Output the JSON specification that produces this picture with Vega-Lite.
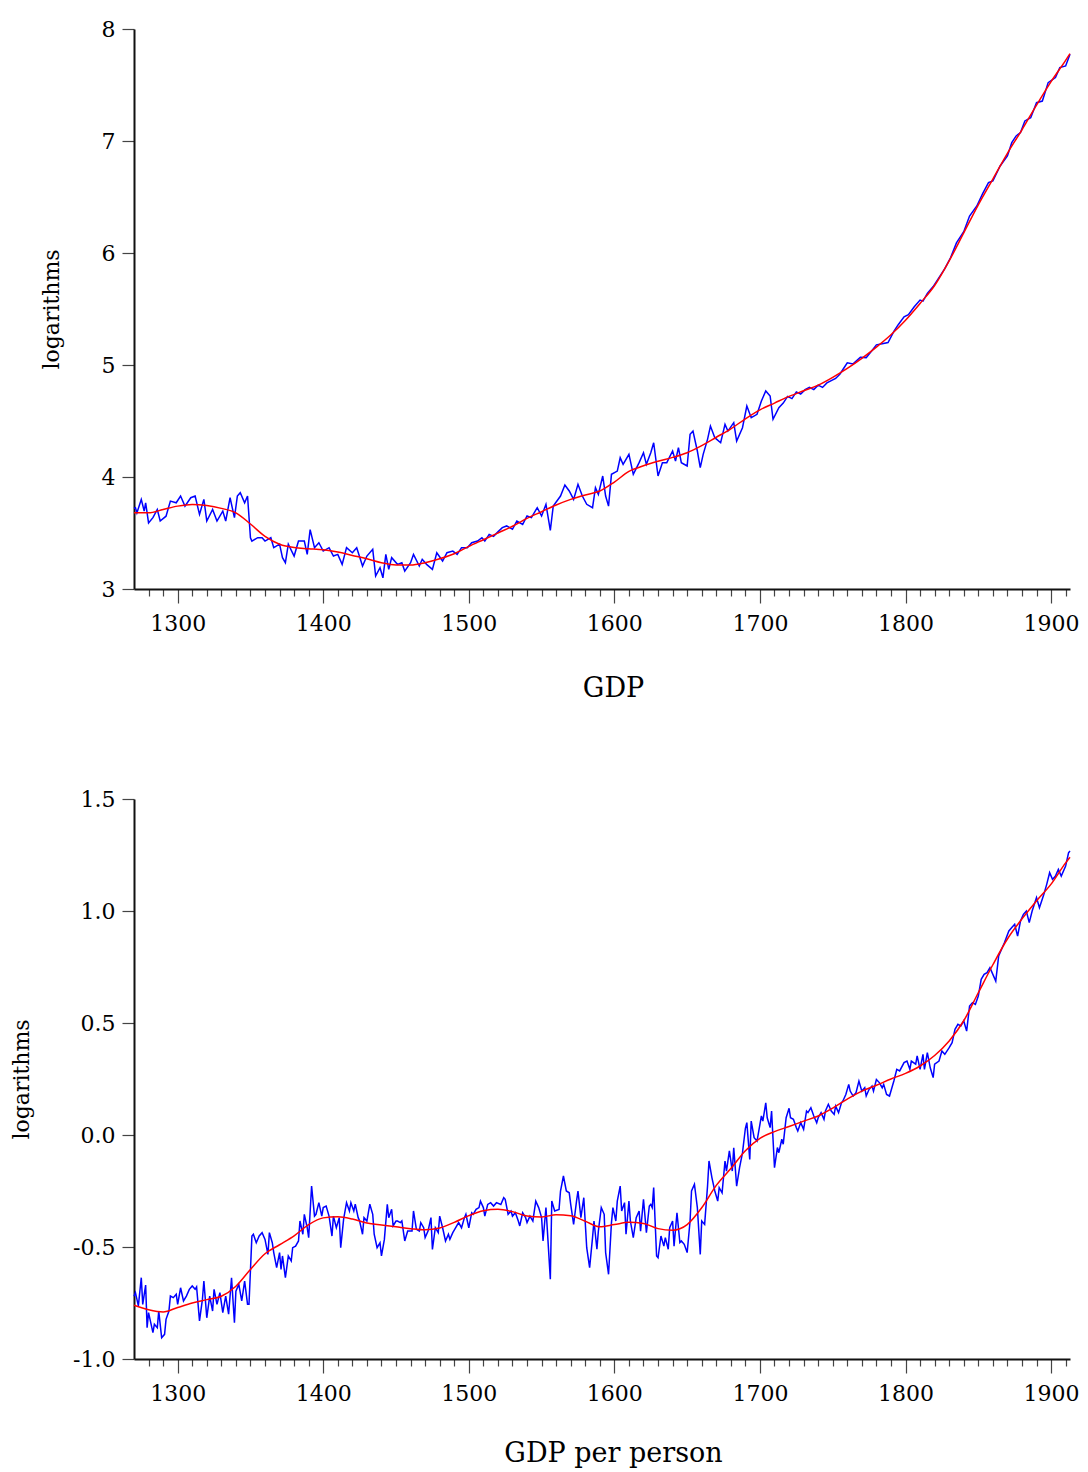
{
"$schema": "https://vega.github.io/schema/vega-lite/v6.json",
"background": "white",
"padding": {"left": 10, "top": 18, "right": 10, "bottom": 5},
"config": {
  "font": "DejaVu Serif",
  "view": {"stroke": null},
  "axis": {"labelFont": "DejaVu Serif", "titleFont": "DejaVu Serif", "labelFontSize": 22, "labelColor": "#000", "titleColor": "#000", "titleFontWeight": "normal", "domainColor": "#111", "domainWidth": 2, "tickColor": "#444", "tickWidth": 1.2, "grid": false, "labelOverlap": false, "labelFlush": false}
},
"spacing": 87,
"datasets": {
"gdp": [
{"year":1270,"v":3.72},{"year":1271,"v":3.726},{"year":1272,"v":3.68},{"year":1275,"v":3.80},{"year":1277,"v":3.696},{"year":1278,"v":3.77},{"year":1280,"v":3.59},{"year":1283,"v":3.637},{"year":1286,"v":3.71},{"year":1288,"v":3.607},{"year":1292,"v":3.65},{"year":1295,"v":3.785},{"year":1299,"v":3.77},{"year":1302,"v":3.83},{"year":1305,"v":3.74},{"year":1309,"v":3.815},{"year":1312,"v":3.83},{"year":1315,"v":3.666},{"year":1318,"v":3.80},{"year":1320,"v":3.607},{"year":1324,"v":3.71},{"year":1327,"v":3.607},{"year":1331,"v":3.696},{"year":1333,"v":3.607},{"year":1336,"v":3.815},{"year":1339,"v":3.637},{"year":1341,"v":3.83},{"year":1343,"v":3.86},{"year":1346,"v":3.77},{"year":1348,"v":3.83},{"year":1350,"v":3.458},{"year":1351,"v":3.428},{"year":1355,"v":3.458},{"year":1358,"v":3.458},{"year":1360,"v":3.428},{"year":1364,"v":3.458},{"year":1366,"v":3.369},{"year":1370,"v":3.40},{"year":1372,"v":3.28},{"year":1374,"v":3.235},{"year":1376,"v":3.40},{"year":1380,"v":3.294},{"year":1383,"v":3.428},{"year":1387,"v":3.428},{"year":1389,"v":3.309},{"year":1391,"v":3.53},{"year":1394,"v":3.369},{"year":1397,"v":3.413},{"year":1400,"v":3.339},{"year":1404,"v":3.369},{"year":1407,"v":3.294},{"year":1410,"v":3.309},{"year":1413,"v":3.22},{"year":1416,"v":3.369},{"year":1420,"v":3.324},{"year":1423,"v":3.369},{"year":1427,"v":3.205},{"year":1430,"v":3.294},{"year":1434,"v":3.354},{"year":1436,"v":3.116},{"year":1439,"v":3.19},{"year":1441,"v":3.10},{"year":1443,"v":3.309},{"year":1445,"v":3.175},{"year":1447,"v":3.28},{"year":1451,"v":3.22},{"year":1454,"v":3.235},{"year":1456,"v":3.16},{"year":1460,"v":3.235},{"year":1462,"v":3.309},{"year":1466,"v":3.205},{"year":1468,"v":3.265},{"year":1471,"v":3.22},{"year":1475,"v":3.175},{"year":1478,"v":3.324},{"year":1482,"v":3.25},{"year":1485,"v":3.324},{"year":1489,"v":3.339},{"year":1492,"v":3.309},{"year":1495,"v":3.369},{"year":1499,"v":3.369},{"year":1502,"v":3.413},{"year":1506,"v":3.428},{"year":1509,"v":3.458},{"year":1511,"v":3.428},{"year":1514,"v":3.488},{"year":1517,"v":3.47},{"year":1520,"v":3.51},{"year":1523,"v":3.548},{"year":1526,"v":3.563},{"year":1530,"v":3.533},{"year":1533,"v":3.607},{"year":1537,"v":3.577},{"year":1540,"v":3.652},{"year":1543,"v":3.637},{"year":1547,"v":3.726},{"year":1550,"v":3.652},{"year":1553,"v":3.756},{"year":1556,"v":3.524},{"year":1558,"v":3.74},{"year":1563,"v":3.83},{"year":1566,"v":3.929},{"year":1569,"v":3.875},{"year":1572,"v":3.80},{"year":1575,"v":3.935},{"year":1578,"v":3.83},{"year":1581,"v":3.756},{"year":1585,"v":3.726},{"year":1587,"v":3.905},{"year":1589,"v":3.845},{"year":1592,"v":4.009},{"year":1594,"v":3.83},{"year":1596,"v":3.74},{"year":1598,"v":4.024},{"year":1602,"v":4.053},{"year":1604,"v":4.172},{"year":1606,"v":4.113},{"year":1610,"v":4.202},{"year":1613,"v":4.024},{"year":1617,"v":4.128},{"year":1620,"v":4.217},{"year":1622,"v":4.113},{"year":1625,"v":4.217},{"year":1627,"v":4.306},{"year":1630,"v":4.009},{"year":1633,"v":4.128},{"year":1636,"v":4.128},{"year":1640,"v":4.232},{"year":1642,"v":4.143},{"year":1644,"v":4.262},{"year":1646,"v":4.128},{"year":1650,"v":4.098},{"year":1652,"v":4.381},{"year":1654,"v":4.41},{"year":1657,"v":4.232},{"year":1659,"v":4.083},{"year":1661,"v":4.202},{"year":1664,"v":4.336},{"year":1666,"v":4.455},{"year":1669,"v":4.351},{"year":1673,"v":4.306},{"year":1676,"v":4.47},{"year":1678,"v":4.41},{"year":1682,"v":4.485},{"year":1684,"v":4.321},{"year":1688,"v":4.44},{"year":1691,"v":4.634},{"year":1694,"v":4.53},{"year":1698,"v":4.56},{"year":1701,"v":4.679},{"year":1704,"v":4.768},{"year":1707,"v":4.723},{"year":1709,"v":4.515},{"year":1713,"v":4.619},{"year":1716,"v":4.66},{"year":1719,"v":4.72},{"year":1722,"v":4.70},{"year":1725,"v":4.76},{"year":1728,"v":4.74},{"year":1731,"v":4.78},{"year":1734,"v":4.80},{"year":1737,"v":4.78},{"year":1740,"v":4.82},{"year":1743,"v":4.80},{"year":1746,"v":4.84},{"year":1749,"v":4.86},{"year":1752,"v":4.88},{"year":1755,"v":4.92},{"year":1757,"v":4.96},{"year":1760,"v":5.02},{"year":1764,"v":5.01},{"year":1769,"v":5.07},{"year":1773,"v":5.066},{"year":1777,"v":5.13},{"year":1780,"v":5.18},{"year":1784,"v":5.19},{"year":1788,"v":5.20},{"year":1792,"v":5.30},{"year":1795,"v":5.36},{"year":1799,"v":5.43},{"year":1802,"v":5.45},{"year":1806,"v":5.52},{"year":1810,"v":5.58},{"year":1812,"v":5.57},{"year":1815,"v":5.64},{"year":1819,"v":5.70},{"year":1824,"v":5.80},{"year":1827,"v":5.86},{"year":1831,"v":5.96},{"year":1835,"v":6.09},{"year":1840,"v":6.19},{"year":1844,"v":6.33},{"year":1849,"v":6.42},{"year":1853,"v":6.53},{"year":1857,"v":6.628},{"year":1860,"v":6.643},{"year":1865,"v":6.777},{"year":1870,"v":6.866},{"year":1873,"v":6.985},{"year":1876,"v":7.045},{"year":1879,"v":7.075},{"year":1882,"v":7.179},{"year":1886,"v":7.208},{"year":1890,"v":7.342},{"year":1894,"v":7.357},{"year":1898,"v":7.521},{"year":1903,"v":7.566},{"year":1906,"v":7.655},{"year":1910,"v":7.67},{"year":1913,"v":7.774}
],
"gdp_trend": [
{"year":1270,"v":3.68},{"year":1280,"v":3.68},{"year":1290,"v":3.71},{"year":1300,"v":3.74},{"year":1310,"v":3.755},{"year":1320,"v":3.745},{"year":1330,"v":3.72},{"year":1340,"v":3.68},{"year":1350,"v":3.58},{"year":1360,"v":3.47},{"year":1370,"v":3.40},{"year":1380,"v":3.37},{"year":1390,"v":3.36},{"year":1400,"v":3.35},{"year":1410,"v":3.33},{"year":1420,"v":3.30},{"year":1430,"v":3.27},{"year":1440,"v":3.235},{"year":1450,"v":3.215},{"year":1460,"v":3.214},{"year":1470,"v":3.235},{"year":1480,"v":3.27},{"year":1490,"v":3.315},{"year":1500,"v":3.38},{"year":1510,"v":3.44},{"year":1520,"v":3.50},{"year":1530,"v":3.56},{"year":1540,"v":3.63},{"year":1550,"v":3.69},{"year":1560,"v":3.75},{"year":1570,"v":3.80},{"year":1580,"v":3.84},{"year":1590,"v":3.875},{"year":1600,"v":3.955},{"year":1610,"v":4.05},{"year":1620,"v":4.10},{"year":1630,"v":4.14},{"year":1640,"v":4.175},{"year":1650,"v":4.217},{"year":1660,"v":4.28},{"year":1670,"v":4.355},{"year":1680,"v":4.43},{"year":1690,"v":4.52},{"year":1700,"v":4.60},{"year":1710,"v":4.66},{"year":1720,"v":4.72},{"year":1730,"v":4.77},{"year":1740,"v":4.82},{"year":1750,"v":4.89},{"year":1760,"v":4.97},{"year":1770,"v":5.06},{"year":1780,"v":5.16},{"year":1790,"v":5.27},{"year":1800,"v":5.40},{"year":1810,"v":5.55},{"year":1820,"v":5.71},{"year":1830,"v":5.93},{"year":1840,"v":6.18},{"year":1850,"v":6.43},{"year":1860,"v":6.66},{"year":1870,"v":6.89},{"year":1880,"v":7.10},{"year":1890,"v":7.32},{"year":1900,"v":7.53},{"year":1910,"v":7.72},{"year":1913,"v":7.78}
],
"pc": [
{"year":1270,"v":-0.72},{"year":1271,"v":-0.704},{"year":1273,"v":-0.763},{"year":1275,"v":-0.637},{"year":1276,"v":-0.756},{"year":1278,"v":-0.67},{"year":1279,"v":-0.86},{"year":1280,"v":-0.793},{"year":1283,"v":-0.882},{"year":1284,"v":-0.845},{"year":1286,"v":-0.86},{"year":1287,"v":-0.786},{"year":1289,"v":-0.905},{"year":1291,"v":-0.89},{"year":1292,"v":-0.823},{"year":1294,"v":-0.786},{"year":1295,"v":-0.719},{"year":1297,"v":-0.726},{"year":1299,"v":-0.711},{"year":1300,"v":-0.756},{"year":1302,"v":-0.682},{"year":1304,"v":-0.741},{"year":1306,"v":-0.719},{"year":1308,"v":-0.689},{"year":1310,"v":-0.674},{"year":1312,"v":-0.689},{"year":1313,"v":-0.678},{"year":1315,"v":-0.83},{"year":1317,"v":-0.734},{"year":1318,"v":-0.652},{"year":1320,"v":-0.816},{"year":1322,"v":-0.719},{"year":1324,"v":-0.786},{"year":1325,"v":-0.689},{"year":1327,"v":-0.756},{"year":1329,"v":-0.704},{"year":1331,"v":-0.793},{"year":1333,"v":-0.719},{"year":1335,"v":-0.80},{"year":1337,"v":-0.637},{"year":1339,"v":-0.838},{"year":1340,"v":-0.697},{"year":1342,"v":-0.667},{"year":1344,"v":-0.741},{"year":1346,"v":-0.652},{"year":1348,"v":-0.756},{"year":1349,"v":-0.756},{"year":1351,"v":-0.451},{"year":1352,"v":-0.443},{"year":1354,"v":-0.481},{"year":1356,"v":-0.451},{"year":1358,"v":-0.436},{"year":1360,"v":-0.466},{"year":1362,"v":-0.533},{"year":1363,"v":-0.436},{"year":1365,"v":-0.481},{"year":1366,"v":-0.525},{"year":1368,"v":-0.592},{"year":1370,"v":-0.525},{"year":1371,"v":-0.60},{"year":1372,"v":-0.54},{"year":1374,"v":-0.637},{"year":1376,"v":-0.54},{"year":1378,"v":-0.562},{"year":1379,"v":-0.503},{"year":1381,"v":-0.496},{"year":1383,"v":-0.473},{"year":1384,"v":-0.384},{"year":1386,"v":-0.443},{"year":1387,"v":-0.354},{"year":1389,"v":-0.414},{"year":1390,"v":-0.458},{"year":1392,"v":-0.228},{"year":1394,"v":-0.362},{"year":1395,"v":-0.354},{"year":1397,"v":-0.302},{"year":1399,"v":-0.362},{"year":1400,"v":-0.324},{"year":1402,"v":-0.317},{"year":1404,"v":-0.362},{"year":1406,"v":-0.451},{"year":1407,"v":-0.362},{"year":1409,"v":-0.414},{"year":1411,"v":-0.369},{"year":1412,"v":-0.503},{"year":1414,"v":-0.376},{"year":1416,"v":-0.302},{"year":1418,"v":-0.339},{"year":1419,"v":-0.302},{"year":1421,"v":-0.339},{"year":1422,"v":-0.309},{"year":1424,"v":-0.369},{"year":1425,"v":-0.384},{"year":1427,"v":-0.443},{"year":1428,"v":-0.369},{"year":1430,"v":-0.384},{"year":1432,"v":-0.309},{"year":1434,"v":-0.354},{"year":1435,"v":-0.443},{"year":1437,"v":-0.503},{"year":1439,"v":-0.481},{"year":1440,"v":-0.54},{"year":1442,"v":-0.466},{"year":1444,"v":-0.309},{"year":1445,"v":-0.369},{"year":1447,"v":-0.332},{"year":1448,"v":-0.406},{"year":1450,"v":-0.384},{"year":1451,"v":-0.384},{"year":1453,"v":-0.391},{"year":1454,"v":-0.384},{"year":1456,"v":-0.473},{"year":1458,"v":-0.429},{"year":1459,"v":-0.429},{"year":1461,"v":-0.429},{"year":1462,"v":-0.339},{"year":1464,"v":-0.421},{"year":1466,"v":-0.429},{"year":1467,"v":-0.391},{"year":1469,"v":-0.414},{"year":1470,"v":-0.458},{"year":1472,"v":-0.429},{"year":1474,"v":-0.369},{"year":1475,"v":-0.511},{"year":1477,"v":-0.414},{"year":1479,"v":-0.436},{"year":1480,"v":-0.362},{"year":1482,"v":-0.414},{"year":1484,"v":-0.473},{"year":1486,"v":-0.443},{"year":1487,"v":-0.466},{"year":1489,"v":-0.436},{"year":1491,"v":-0.414},{"year":1493,"v":-0.391},{"year":1495,"v":-0.414},{"year":1497,"v":-0.369},{"year":1498,"v":-0.354},{"year":1500,"v":-0.414},{"year":1502,"v":-0.347},{"year":1503,"v":-0.354},{"year":1505,"v":-0.332},{"year":1507,"v":-0.324},{"year":1508,"v":-0.295},{"year":1510,"v":-0.324},{"year":1511,"v":-0.362},{"year":1513,"v":-0.31},{"year":1515,"v":-0.302},{"year":1517,"v":-0.317},{"year":1519,"v":-0.302},{"year":1522,"v":-0.31},{"year":1524,"v":-0.28},{"year":1525,"v":-0.287},{"year":1527,"v":-0.354},{"year":1529,"v":-0.339},{"year":1530,"v":-0.362},{"year":1532,"v":-0.347},{"year":1534,"v":-0.384},{"year":1535,"v":-0.406},{"year":1537,"v":-0.347},{"year":1539,"v":-0.369},{"year":1540,"v":-0.391},{"year":1542,"v":-0.362},{"year":1544,"v":-0.384},{"year":1546,"v":-0.295},{"year":1548,"v":-0.324},{"year":1550,"v":-0.369},{"year":1551,"v":-0.473},{"year":1553,"v":-0.324},{"year":1554,"v":-0.429},{"year":1556,"v":-0.644},{"year":1557,"v":-0.295},{"year":1559,"v":-0.339},{"year":1562,"v":-0.332},{"year":1563,"v":-0.25},{"year":1565,"v":-0.183},{"year":1567,"v":-0.25},{"year":1569,"v":-0.258},{"year":1570,"v":-0.31},{"year":1572,"v":-0.399},{"year":1574,"v":-0.295},{"year":1575,"v":-0.25},{"year":1577,"v":-0.369},{"year":1579,"v":-0.28},{"year":1581,"v":-0.503},{"year":1583,"v":-0.592},{"year":1585,"v":-0.458},{"year":1586,"v":-0.384},{"year":1588,"v":-0.51},{"year":1589,"v":-0.429},{"year":1591,"v":-0.324},{"year":1593,"v":-0.354},{"year":1594,"v":-0.525},{"year":1596,"v":-0.622},{"year":1598,"v":-0.391},{"year":1599,"v":-0.324},{"year":1601,"v":-0.384},{"year":1602,"v":-0.295},{"year":1604,"v":-0.228},{"year":1605,"v":-0.339},{"year":1607,"v":-0.302},{"year":1608,"v":-0.443},{"year":1610,"v":-0.295},{"year":1611,"v":-0.384},{"year":1613,"v":-0.458},{"year":1615,"v":-0.369},{"year":1617,"v":-0.339},{"year":1618,"v":-0.429},{"year":1620,"v":-0.287},{"year":1622,"v":-0.436},{"year":1624,"v":-0.317},{"year":1625,"v":-0.31},{"year":1626,"v":-0.324},{"year":1627,"v":-0.235},{"year":1629,"v":-0.54},{"year":1630,"v":-0.548},{"year":1632,"v":-0.451},{"year":1634,"v":-0.496},{"year":1635,"v":-0.458},{"year":1637,"v":-0.51},{"year":1638,"v":-0.414},{"year":1640,"v":-0.384},{"year":1641,"v":-0.496},{"year":1643,"v":-0.347},{"year":1645,"v":-0.48},{"year":1646,"v":-0.473},{"year":1648,"v":-0.488},{"year":1650,"v":-0.525},{"year":1652,"v":-0.384},{"year":1653,"v":-0.25},{"year":1655,"v":-0.22},{"year":1657,"v":-0.324},{"year":1659,"v":-0.533},{"year":1660,"v":-0.384},{"year":1662,"v":-0.399},{"year":1664,"v":-0.228},{"year":1665,"v":-0.116},{"year":1667,"v":-0.19},{"year":1669,"v":-0.25},{"year":1671,"v":-0.295},{"year":1672,"v":-0.235},{"year":1674,"v":-0.258},{"year":1676,"v":-0.116},{"year":1677,"v":-0.161},{"year":1679,"v":-0.071},{"year":1681,"v":-0.161},{"year":1682,"v":-0.057},{"year":1684,"v":-0.228},{"year":1686,"v":-0.146},{"year":1688,"v":-0.08},{"year":1690,"v":0.03},{"year":1691,"v":0.055},{"year":1693,"v":-0.109},{"year":1694,"v":0.062},{"year":1696,"v":-0.012},{"year":1698,"v":-0.027},{"year":1701,"v":0.085},{"year":1702,"v":0.062},{"year":1704,"v":0.144},{"year":1705,"v":0.077},{"year":1707,"v":0.033},{"year":1708,"v":0.107},{"year":1710,"v":-0.146},{"year":1712,"v":-0.056},{"year":1713,"v":-0.079},{"year":1715,"v":-0.019},{"year":1716,"v":-0.041},{"year":1718,"v":0.077},{"year":1720,"v":0.119},{"year":1721,"v":0.077},{"year":1723,"v":0.07},{"year":1725,"v":0.033},{"year":1726,"v":0.018},{"year":1728,"v":0.055},{"year":1730,"v":0.025},{"year":1732,"v":0.107},{"year":1733,"v":0.10},{"year":1735,"v":0.122},{"year":1737,"v":0.085},{"year":1739,"v":0.055},{"year":1740,"v":0.077},{"year":1742,"v":0.10},{"year":1744,"v":0.07},{"year":1745,"v":0.107},{"year":1747,"v":0.137},{"year":1749,"v":0.107},{"year":1751,"v":0.092},{"year":1752,"v":0.129},{"year":1754,"v":0.10},{"year":1756,"v":0.144},{"year":1757,"v":0.152},{"year":1759,"v":0.181},{"year":1761,"v":0.226},{"year":1762,"v":0.196},{"year":1764,"v":0.174},{"year":1766,"v":0.189},{"year":1768,"v":0.241},{"year":1770,"v":0.196},{"year":1772,"v":0.211},{"year":1773,"v":0.174},{"year":1775,"v":0.204},{"year":1777,"v":0.219},{"year":1778,"v":0.196},{"year":1780,"v":0.248},{"year":1782,"v":0.234},{"year":1784,"v":0.211},{"year":1785,"v":0.226},{"year":1787,"v":0.181},{"year":1789,"v":0.174},{"year":1791,"v":0.219},{"year":1792,"v":0.241},{"year":1794,"v":0.293},{"year":1796,"v":0.286},{"year":1799,"v":0.323},{"year":1801,"v":0.33},{"year":1803,"v":0.293},{"year":1804,"v":0.33},{"year":1807,"v":0.316},{"year":1808,"v":0.353},{"year":1810,"v":0.293},{"year":1812,"v":0.36},{"year":1813,"v":0.293},{"year":1815,"v":0.368},{"year":1817,"v":0.30},{"year":1819,"v":0.256},{"year":1820,"v":0.316},{"year":1823,"v":0.33},{"year":1825,"v":0.375},{"year":1827,"v":0.36},{"year":1830,"v":0.39},{"year":1832,"v":0.412},{"year":1834,"v":0.472},{"year":1836,"v":0.494},{"year":1838,"v":0.487},{"year":1840,"v":0.509},{"year":1842,"v":0.464},{"year":1844,"v":0.576},{"year":1846,"v":0.591},{"year":1848,"v":0.583},{"year":1850,"v":0.62},{"year":1852,"v":0.695},{"year":1854,"v":0.717},{"year":1856,"v":0.725},{"year":1858,"v":0.747},{"year":1862,"v":0.687},{"year":1864,"v":0.799},{"year":1866,"v":0.829},{"year":1868,"v":0.859},{"year":1871,"v":0.911},{"year":1873,"v":0.926},{"year":1875,"v":0.941},{"year":1877,"v":0.888},{"year":1879,"v":0.955},{"year":1881,"v":0.985},{"year":1883,"v":1.00},{"year":1885,"v":0.948},{"year":1887,"v":1.00},{"year":1890,"v":1.06},{"year":1892,"v":1.015},{"year":1895,"v":1.074},{"year":1897,"v":1.119},{"year":1899,"v":1.171},{"year":1901,"v":1.141},{"year":1903,"v":1.156},{"year":1905,"v":1.186},{"year":1907,"v":1.156},{"year":1910,"v":1.201},{"year":1912,"v":1.26},{"year":1913,"v":1.268}
],
"pc_trend": [
{"year":1270,"v":-0.76},{"year":1280,"v":-0.78},{"year":1290,"v":-0.79},{"year":1300,"v":-0.77},{"year":1310,"v":-0.75},{"year":1320,"v":-0.735},{"year":1330,"v":-0.72},{"year":1340,"v":-0.675},{"year":1350,"v":-0.60},{"year":1360,"v":-0.53},{"year":1370,"v":-0.49},{"year":1380,"v":-0.45},{"year":1390,"v":-0.40},{"year":1400,"v":-0.37},{"year":1410,"v":-0.365},{"year":1420,"v":-0.375},{"year":1430,"v":-0.393},{"year":1440,"v":-0.402},{"year":1450,"v":-0.41},{"year":1460,"v":-0.418},{"year":1470,"v":-0.423},{"year":1480,"v":-0.415},{"year":1490,"v":-0.39},{"year":1500,"v":-0.36},{"year":1510,"v":-0.338},{"year":1520,"v":-0.332},{"year":1530,"v":-0.342},{"year":1540,"v":-0.362},{"year":1550,"v":-0.366},{"year":1560,"v":-0.356},{"year":1570,"v":-0.36},{"year":1580,"v":-0.385},{"year":1590,"v":-0.41},{"year":1600,"v":-0.40},{"year":1610,"v":-0.39},{"year":1620,"v":-0.395},{"year":1630,"v":-0.418},{"year":1640,"v":-0.425},{"year":1650,"v":-0.40},{"year":1660,"v":-0.325},{"year":1670,"v":-0.225},{"year":1680,"v":-0.15},{"year":1690,"v":-0.07},{"year":1700,"v":-0.015},{"year":1710,"v":0.015},{"year":1720,"v":0.038},{"year":1730,"v":0.062},{"year":1740,"v":0.085},{"year":1750,"v":0.12},{"year":1760,"v":0.16},{"year":1770,"v":0.196},{"year":1780,"v":0.222},{"year":1790,"v":0.25},{"year":1800,"v":0.275},{"year":1810,"v":0.308},{"year":1820,"v":0.355},{"year":1830,"v":0.42},{"year":1840,"v":0.51},{"year":1850,"v":0.635},{"year":1860,"v":0.76},{"year":1870,"v":0.875},{"year":1880,"v":0.965},{"year":1890,"v":1.045},{"year":1900,"v":1.12},{"year":1910,"v":1.215},{"year":1913,"v":1.24}
]
},
"vconcat": [
{
  "width": 936, "height": 560,
  "encoding": {
    "x": {"field": "year", "type": "quantitative", "scale": {"domain": [1270, 1913], "nice": false, "zero": false},
      "axis": {"title": "GDP", "titleFontSize": 27, "titlePadding": 41, "titleX": 479, "format": "d",
        "values": [1280,1290,1300,1310,1320,1330,1340,1350,1360,1370,1380,1390,1400,1410,1420,1430,1440,1450,1460,1470,1480,1490,1500,1510,1520,1530,1540,1550,1560,1570,1580,1590,1600,1610,1620,1630,1640,1650,1660,1670,1680,1690,1700,1710,1720,1730,1740,1750,1760,1770,1780,1790,1800,1810,1820,1830,1840,1850,1860,1870,1880,1890,1900,1910],
        "labelExpr": "datum.value % 100 === 0 ? datum.label : ''",
        "tickSize": {"condition": {"test": "datum.value % 100 === 0", "value": 14}, "value": 7},
        "labelPadding": 10}},
    "y": {"field": "v", "type": "quantitative", "scale": {"domain": [3, 8], "nice": false, "zero": false},
      "axis": {"title": "logarithms", "titleFontSize": 22, "titlePadding": 38, "values": [3,4,5,6,7,8], "tickSize": 12, "labelPadding": 7}}
  },
  "layer": [
    {"data": {"name": "gdp"}, "mark": {"type": "line", "color": "#0000ff", "strokeWidth": 1.5}},
    {"data": {"name": "gdp_trend"}, "mark": {"type": "line", "color": "#ff0000", "strokeWidth": 1.5, "interpolate": "monotone"}}
  ]
},
{
  "width": 936, "height": 560,
  "encoding": {
    "x": {"field": "year", "type": "quantitative", "scale": {"domain": [1270, 1913], "nice": false, "zero": false},
      "axis": {"title": "GDP per person", "titleFontSize": 27, "titlePadding": 36, "titleX": 479, "format": "d",
        "values": [1280,1290,1300,1310,1320,1330,1340,1350,1360,1370,1380,1390,1400,1410,1420,1430,1440,1450,1460,1470,1480,1490,1500,1510,1520,1530,1540,1550,1560,1570,1580,1590,1600,1610,1620,1630,1640,1650,1660,1670,1680,1690,1700,1710,1720,1730,1740,1750,1760,1770,1780,1790,1800,1810,1820,1830,1840,1850,1860,1870,1880,1890,1900,1910],
        "labelExpr": "datum.value % 100 === 0 ? datum.label : ''",
        "tickSize": {"condition": {"test": "datum.value % 100 === 0", "value": 14}, "value": 7},
        "labelPadding": 10}},
    "y": {"field": "v", "type": "quantitative", "scale": {"domain": [-1, 1.5], "nice": false, "zero": false},
      "axis": {"title": "logarithms", "titleFontSize": 22, "titlePadding": 39, "values": [-1,-0.5,0,0.5,1,1.5], "tickSize": 12, "labelPadding": 7,
        "labelExpr": "(datum.value < 0 ? '-' : '') + format(abs(datum.value), '.1f')"}}
  },
  "layer": [
    {"data": {"name": "pc"}, "mark": {"type": "line", "color": "#0000ff", "strokeWidth": 1.5}},
    {"data": {"name": "pc_trend"}, "mark": {"type": "line", "color": "#ff0000", "strokeWidth": 1.5, "interpolate": "monotone"}}
  ]
}
]
}
